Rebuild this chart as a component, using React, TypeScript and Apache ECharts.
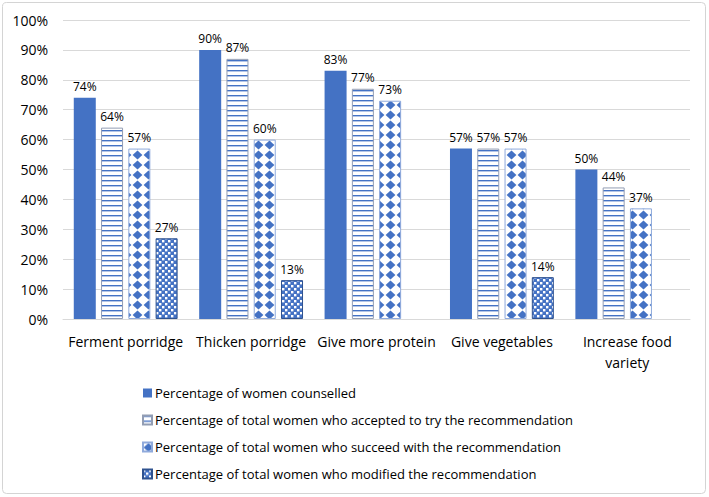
import React, { useEffect, useRef } from "react";
import * as echarts from "echarts";

const categories = [
  "Ferment porridge",
  "Thicken porridge",
  "Give more protein",
  "Give vegetables",
  "Increase food\nvariety",
];
const seriesNames = [
  "Percentage of women counselled",
  "Percentage of total women who accepted to try the recommendation",
  "Percentage of total women who succeed with the recommendation",
  "Percentage of total women who modified the recommendation",
];
const counselled = [74, 90, 83, 57, 50];
const accepted = [64, 87, 77, 57, 44];
const succeeded = [57, 60, 73, 57, 37];
const modified: (number | null)[] = [27, 13, null, 14, null];
const yTicks = { min: 0, max: 100, interval: 10 };

const BLUE = "#4472C4";
const FONT = "'Open Sans', sans-serif";

function svgUrl(svg: string) {
  return "data:image/svg+xml;charset=utf-8," + encodeURIComponent(svg);
}

const stripeSvg = `<svg xmlns="http://www.w3.org/2000/svg" width="4" height="5"><rect width="4" height="5" fill="#ffffff"/><rect y="0" width="4" height="1.4" fill="${BLUE}"/></svg>`;
const diamondSvg = `<svg xmlns="http://www.w3.org/2000/svg" width="11" height="10"><rect width="11" height="10" fill="#ffffff"/><polygon points="5.5,0.6 10.4,5 5.5,9.4 0.6,5" fill="${BLUE}"/></svg>`;
const dotSvg = `<svg xmlns="http://www.w3.org/2000/svg" width="6" height="6"><rect width="6" height="6" fill="${BLUE}"/><rect x="0" y="0" width="2.4" height="2.4" fill="#ffffff"/><rect x="3" y="3" width="2.4" height="2.4" fill="#ffffff"/></svg>`;

export default function App() {
  const ref = useRef<HTMLDivElement>(null);
  useEffect(() => {
    if (!ref.current) return;
    const chart = echarts.init(ref.current, undefined, { renderer: "svg" });
    const label = {
      show: true,
      position: "top" as const,
      distance: 5,
      formatter: "{c}%",
      color: "#000",
      fontSize: 12,
      fontFamily: FONT,
    };
    const stripe = { image: svgUrl(stripeSvg), repeat: "repeat", imageWidth: 4, imageHeight: 5 };
    const diamond = { image: svgUrl(diamondSvg), repeat: "repeat", imageWidth: 11, imageHeight: 10 };
    const dots = { image: svgUrl(dotSvg), repeat: "repeat", imageWidth: 6, imageHeight: 6 };
    const option: any = {
      animation: false,
      backgroundColor: "#ffffff",
      textStyle: { fontFamily: FONT },
      graphic: [
        {
          type: "rect",
          shape: { x: 2.5, y: 2.5, width: 703, height: 491, r: 4 },
          style: { fill: "none", stroke: "#d4d4d4", lineWidth: 1 },
          silent: true,
        },
      ],
      grid: { left: 63, right: 19, top: 20, bottom: 178, containLabel: false },
      legend: {
        orient: "vertical",
        left: 137,
        top: 381,
        itemWidth: 9,
        itemHeight: 9,
        itemGap: 13,
        icon: "rect",
        textStyle: { fontSize: 13, color: "#000", fontFamily: FONT, lineHeight: 14, padding: [0, 0, 0, -2] },
        data: seriesNames,
      },
      xAxis: {
        type: "category",
        data: categories,
        axisLine: { lineStyle: { color: "#d9d9d9" } },
        axisTick: { show: false },
        axisLabel: { color: "#000", fontSize: 14, fontFamily: FONT, margin: 12, lineHeight: 21, interval: 0 },
      },
      yAxis: {
        type: "value",
        min: yTicks.min,
        max: yTicks.max,
        interval: yTicks.interval,
        axisLine: { show: false },
        axisTick: { show: false },
        splitLine: { lineStyle: { color: "#d9d9d9" } },
        axisLabel: { formatter: "{value}%", color: "#000", fontSize: 14, fontFamily: FONT, margin: 15 },
      },
      series: [
        {
          name: seriesNames[0],
          type: "bar",
          data: counselled,
          barWidth: 22,
          barGap: "24%",
          itemStyle: { color: BLUE },
          label,
        },
        {
          name: seriesNames[1],
          type: "bar",
          data: accepted,
          barWidth: 22,
          barGap: "24%",
          itemStyle: { color: stripe, borderColor: "#929db3", borderWidth: 1 },
          label,
        },
        {
          name: seriesNames[2],
          type: "bar",
          data: succeeded,
          barWidth: 22,
          barGap: "24%",
          itemStyle: { color: diamond, borderColor: "#8faadc", borderWidth: 1 },
          label,
        },
        {
          name: seriesNames[3],
          type: "bar",
          data: modified,
          barWidth: 22,
          barGap: "24%",
          itemStyle: { color: dots, borderColor: "#2f528f", borderWidth: 1 },
          label,
        },
      ],
    };
    chart.setOption(option);
    return () => chart.dispose();
  }, []);
  return (
    <div
      ref={ref}
      style={{ position: "absolute", left: 0, top: 0, width: 709, height: 497 }}
    />
  );
}
